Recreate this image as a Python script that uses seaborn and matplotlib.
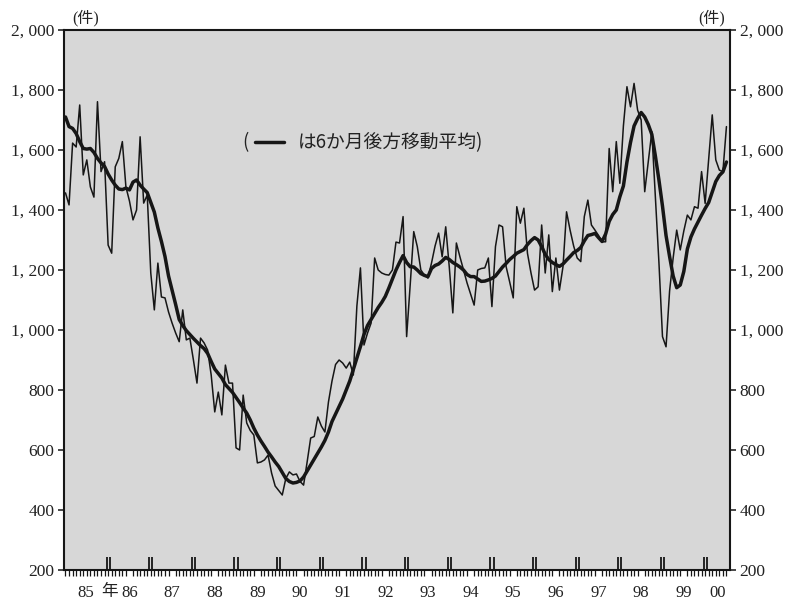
import numpy as np
import pandas as pd
import matplotlib
matplotlib.use("Agg")
import matplotlib.pyplot as plt
import seaborn as sns
from matplotlib.ticker import FixedLocator, FuncFormatter, NullFormatter

# Monthly counts (件), Jan 1985 - Jul 2000
cases_1985 = [1457, 1417, 1623, 1610, 1750, 1517, 1567, 1477, 1443, 1761, 1528, 1561]
cases_1986 = [1283, 1256, 1544, 1572, 1628, 1477, 1430, 1367, 1400, 1644, 1423, 1450]
cases_1987 = [1190, 1067, 1223, 1110, 1107, 1060, 1023, 990, 961, 1067, 967, 973]
cases_1988 = [900, 823, 973, 957, 933, 850, 727, 793, 717, 883, 823, 823]
cases_1989 = [607, 600, 783, 690, 665, 650, 557, 560, 567, 583, 523, 480]
cases_1990 = [465, 450, 505, 527, 517, 520, 495, 483, 560, 640, 645, 710]
cases_1991 = [680, 660, 760, 830, 885, 900, 890, 873, 893, 850, 1080, 1207]
cases_1992 = [950, 990, 1023, 1240, 1200, 1190, 1185, 1183, 1200, 1293, 1290, 1378]
cases_1993 = [978, 1150, 1328, 1278, 1200, 1183, 1173, 1223, 1280, 1323, 1244, 1344]
cases_1994 = [1210, 1057, 1290, 1244, 1200, 1157, 1120, 1083, 1200, 1205, 1207, 1240]
cases_1995 = [1078, 1278, 1350, 1344, 1211, 1160, 1107, 1411, 1356, 1406, 1256, 1190]
cases_1996 = [1133, 1144, 1350, 1190, 1317, 1128, 1240, 1133, 1211, 1394, 1333, 1280]
cases_1997 = [1240, 1228, 1378, 1433, 1350, 1333, 1315, 1294, 1294, 1605, 1461, 1628]
cases_1998 = [1489, 1680, 1811, 1744, 1822, 1733, 1700, 1461, 1560, 1661, 1440, 1225]
cases_1999 = [978, 944, 1130, 1240, 1333, 1267, 1330, 1383, 1367, 1411, 1406, 1528]
cases_2000 = [1422, 1570, 1717, 1567, 1533, 1528, 1678]

# 6-month trailing moving average
ma_1985 = [1710, 1678, 1672, 1655, 1628, 1605, 1603, 1605, 1592, 1572, 1557, 1545]
ma_1986 = [1520, 1500, 1483, 1470, 1468, 1473, 1467, 1493, 1500, 1483, 1470, 1458]
ma_1987 = [1425, 1393, 1340, 1295, 1245, 1180, 1133, 1085, 1035, 1015, 998, 985]
ma_1988 = [972, 960, 948, 938, 922, 895, 870, 855, 840, 818, 805, 792]
ma_1989 = [775, 758, 740, 723, 700, 673, 650, 630, 612, 593, 577, 560]
ma_1990 = [545, 525, 505, 495, 490, 492, 497, 510, 530, 550, 570, 590]
ma_1991 = [610, 632, 660, 695, 720, 745, 770, 800, 830, 868, 905, 945]
ma_1992 = [985, 1015, 1035, 1055, 1075, 1092, 1112, 1140, 1170, 1200, 1225, 1248]
ma_1993 = [1225, 1211, 1210, 1200, 1188, 1182, 1178, 1205, 1215, 1220, 1230, 1242]
ma_1994 = [1235, 1225, 1218, 1210, 1200, 1185, 1178, 1178, 1170, 1162, 1163, 1167]
ma_1995 = [1172, 1180, 1195, 1210, 1222, 1235, 1245, 1256, 1262, 1268, 1285, 1298]
ma_1996 = [1308, 1300, 1278, 1252, 1235, 1225, 1218, 1212, 1220, 1233, 1245, 1258]
ma_1997 = [1265, 1275, 1297, 1315, 1318, 1322, 1308, 1295, 1320, 1362, 1385, 1400]
ma_1998 = [1444, 1480, 1560, 1625, 1680, 1705, 1725, 1710, 1685, 1652, 1580, 1500]
ma_1999 = [1413, 1315, 1245, 1180, 1141, 1150, 1195, 1270, 1310, 1337, 1360, 1383]
ma_2000 = [1405, 1425, 1460, 1495, 1515, 1527, 1560]

year_labels = ["85", "86", "87", "88", "89", "90", "91", "92",
               "93", "94", "95", "96", "97", "98", "99", "00"]
y_ticks = [200, 400, 600, 800, 1000, 1200, 1400, 1600, 1800, 2000]

cases = (cases_1985 + cases_1986 + cases_1987 + cases_1988 + cases_1989 +
         cases_1990 + cases_1991 + cases_1992 + cases_1993 + cases_1994 +
         cases_1995 + cases_1996 + cases_1997 + cases_1998 + cases_1999 + cases_2000)
moving_avg = (ma_1985 + ma_1986 + ma_1987 + ma_1988 + ma_1989 + ma_1990 +
              ma_1991 + ma_1992 + ma_1993 + ma_1994 + ma_1995 + ma_1996 +
              ma_1997 + ma_1998 + ma_1999 + ma_2000)

n = len(cases)
df = pd.DataFrame({"month": np.arange(n), "cases": cases, "ma": moving_avg})

sns.set_style("ticks")
plt.rcParams["font.family"] = ["Liberation Serif", "Noto Sans CJK JP"]
plt.rcParams["axes.unicode_minus"] = False

ink = "#161616"
fig = plt.figure(figsize=(7.88, 6.08), dpi=100)
ax = fig.add_axes([64 / 788, 38 / 608, 666 / 788, 540 / 608])
ax.set_facecolor("#d7d7d7")

sns.lineplot(data=df, x="month", y="cases", ax=ax, color=ink, lw=1.1)
sns.lineplot(data=df, x="month", y="ma", ax=ax, color=ink, lw=2.5)
ma_line = ax.get_lines()[1]

ax.set_xlim(-0.42, 187.0)
ax.set_ylim(200, 2000)
ax.set_xlabel("")
ax.set_ylabel("")

for s in ax.spines.values():
    s.set_color(ink)
    s.set_linewidth(1.5)
    s.set_visible(True)

# y axis: ticks and labels on both sides, Japanese-style thousands separator
ax.yaxis.set_major_locator(FixedLocator(y_ticks))
ax.yaxis.set_major_formatter(FuncFormatter(lambda v, p: f"{int(v):,}".replace(",", ", ")))
ax.tick_params(axis="y", which="major", left=True, right=True, labelleft=True,
               labelright=True, direction="out", length=4, width=1.1,
               color=ink, labelsize=12.5, labelcolor="#222222", pad=3)

# x axis: year labels centred in each year, monthly minor ticks
year_starts = [12 * k for k in range(1, len(year_labels))]
label_pos = [6 + 12 * k for k in range(len(year_labels) - 1)] + [183.6]
label_pos[0] = 5.8
ax.xaxis.set_major_locator(FixedLocator(label_pos))
ax.set_xticklabels(year_labels)
ax.xaxis.set_minor_locator(FixedLocator(np.arange(0, n)))
ax.xaxis.set_minor_formatter(NullFormatter())
ax.tick_params(axis="x", which="major", length=0, labelsize=12,
               labelcolor="#222222", pad=11)
ax.tick_params(axis="x", which="minor", direction="out", length=4.5,
               width=0.9, color=ink)

# double marks at each year boundary
xt = ax.get_xaxis_transform()
for b in year_starts:
    ax.vlines([b - 0.45, b + 0.45], 0, 0.025, transform=xt, colors=ink, lw=1.3)

ax.annotate("年", xy=(label_pos[0], 0), xycoords=xt, xytext=(17, -15.5),
            textcoords="offset points", ha="center", va="center",
            fontsize=12, color="#222222", family="Noto Sans CJK JP")

# unit labels
fig.text(86 / 788, 1 - 18 / 608, "(件)", ha="center", va="center",
         fontsize=11.5, color="#222222")
fig.text(712 / 788, 1 - 18 / 608, "(件)", ha="center", va="center",
         fontsize=11.5, color="#222222")

# note on the moving average
ax.text(0.268, 0.791, "(", transform=ax.transAxes, ha="left", va="center",
        fontsize=13.5, color="#222222", family="Noto Sans CJK JP")
ax.legend(handles=[ma_line], labels=["は6か月後方移動平均)"], loc="center left",
          bbox_to_anchor=(0.287, 0.791), frameon=False, handlelength=1.55,
          handletextpad=0.75, borderaxespad=0, borderpad=0,
          prop={"family": "Noto Sans CJK JP", "size": 13.5}, labelcolor="#222222")

fig.savefig("out.png", dpi=100, facecolor="white")
